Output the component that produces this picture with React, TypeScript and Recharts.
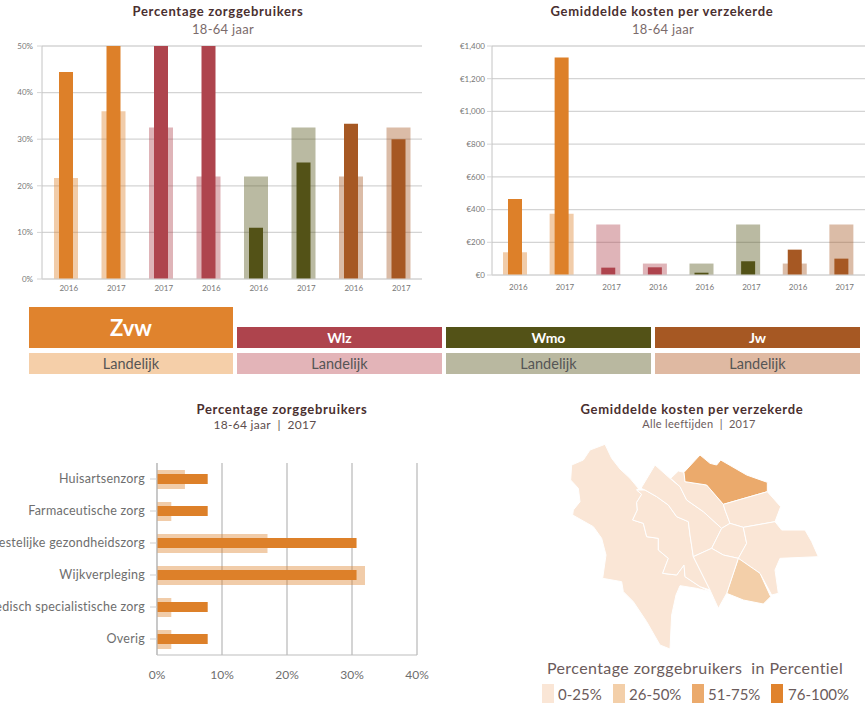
import React from "react";
import {
  BarChart,
  Bar,
  XAxis,
  YAxis,
  CartesianGrid,
  Cell,
  ScatterChart,
  Scatter,
} from "recharts";

const FONT = "Lato, 'Noto Sans', sans-serif";
const GRID = "#d4d4d4";

// shared by the two column charts
const yearLabels = ["2016", "2017", "2017", "2016", "2016", "2017", "2016", "2017"];
const barColors = ["#dd8029", "#dd8029", "#ae444d", "#ae444d", "#535217", "#535217", "#a65823", "#a65823"];

const pctLocal = [44.4, 50, 50, 50, 11, 25, 33.3, 30];
const pctNational = [21.7, 36, 32.5, 22, 22, 32.5, 22, 32.5];
const pctTicks = [0, 10, 20, 30, 40, 50];

const costLocal = [465, 1330, 45, 47, 14, 84, 155, 100];
const costNational = [139, 375, 308, 70, 70, 308, 70, 308];
const costTicks = [0, 200, 400, 600, 800, 1000, 1200, 1400];

const careTypes = [
  "Huisartsenzorg",
  "Farmaceutische zorg",
  "Geestelijke gezondheidszorg",
  "Wijkverpleging",
  "Medisch specialistische zorg",
  "Overig",
];
const careLocal = [7.8, 7.8, 30.7, 30.7, 7.8, 7.8];
const careNational = [4.3, 2.2, 17, 32, 2.2, 2.2];
const careTicks = [0, 10, 20, 30, 40];

const blocks = ["Zvw", "Wlz", "Wmo", "Jw"];
const blockLabel = "Landelijk";

const legendLabels = ["0-25%", "26-50%", "51-75%", "76-100%"];

// map outlines in map units
type Pt = [number, number];
const westArea: Pt[] = [[225, 148], [245, 190], [270, 222], [300, 250], [325, 280], [320, 285], [335, 298], [320, 322], [322, 345], [308, 375], [340, 385], [350, 425], [385, 430], [385, 465], [415, 490], [398, 535], [440, 540], [462, 510], [465, 545], [510, 575], [540, 590], [500, 580], [450, 572], [438, 600], [425, 660], [420, 762], [390, 750], [350, 680], [310, 620], [280, 590], [275, 560], [218, 550], [228, 480], [215, 430], [190, 395], [128, 360], [130, 345], [150, 320], [145, 280], [122, 255], [125, 210], [160, 195], [180, 165]];
const innerWest: Pt[] = [[320, 285], [345, 285], [380, 305], [415, 330], [440, 365], [475, 380], [480, 420], [490, 485], [540, 585], [510, 575], [465, 545], [462, 510], [440, 540], [398, 535], [415, 490], [385, 465], [385, 430], [350, 425], [340, 385], [308, 375], [322, 345], [320, 322], [335, 298]];
const northWest: Pt[] = [[333, 280], [375, 210], [422, 252], [450, 275], [470, 315], [520, 350], [575, 400], [545, 460], [490, 485], [480, 420], [475, 380], [440, 365], [415, 330], [380, 305], [345, 285]];
const north: Pt[] = [[422, 250], [445, 228], [462, 232], [465, 260], [530, 270], [580, 328], [585, 345], [600, 385], [575, 400], [520, 350], [470, 315], [450, 275]];
const northEast: Pt[] = [[462, 232], [510, 180], [540, 205], [560, 210], [572, 195], [650, 240], [712, 262], [712, 290], [580, 328], [530, 270], [465, 260]];
const east: Pt[] = [[580, 328], [712, 290], [752, 335], [735, 380], [640, 397], [600, 385], [585, 345]];
const centre: Pt[] = [[575, 400], [600, 385], [640, 397], [650, 445], [625, 490], [580, 480], [545, 460]];
const farEast: Pt[] = [[640, 397], [735, 380], [755, 405], [825, 405], [845, 440], [865, 485], [750, 490], [735, 525], [745, 595], [725, 600], [690, 535], [625, 490], [650, 445]];
const southEast: Pt[] = [[625, 490], [690, 535], [722, 605], [700, 627], [640, 615], [590, 595]];
const south: Pt[] = [[490, 485], [545, 460], [580, 480], [625, 490], [590, 595], [565, 640], [540, 585]];

const MAP_1 = "#fae6d6";
const MAP_2 = "#f3cfa9";
const MAP_3 = "#ebaa6c";
const MAP_4 = "#e0832d";
const legendColors = [MAP_1, MAP_2, MAP_3, MAP_4];

const districts: { pts: Pt[]; color: string }[] = [
  { pts: westArea, color: MAP_1 },
  { pts: innerWest, color: MAP_1 },
  { pts: northWest, color: MAP_1 },
  { pts: north, color: MAP_1 },
  { pts: northEast, color: MAP_3 },
  { pts: east, color: MAP_1 },
  { pts: centre, color: MAP_1 },
  { pts: farEast, color: MAP_1 },
  { pts: southEast, color: MAP_2 },
  { pts: south, color: MAP_1 },
];

const toRows = (local: number[], national: number[]) =>
  local.map((value, i) => ({ id: i, local: value, national: national[i] }));

const Title = ({ x, y, text, size, color, bold, spacing }: any) => (
  <div
    style={{
      position: "absolute",
      left: x - 200,
      top: y - 10,
      width: 400,
      height: 20,
      lineHeight: "20px",
      textAlign: "center",
      fontFamily: FONT,
      fontSize: size,
      color,
      fontWeight: bold ? 700 : 400,
      letterSpacing: spacing ?? (bold ? 0.7 : 0.3),
      whiteSpace: "pre",
    }}
  >
    {text}
  </div>
);

const ColumnChart = ({ local, national, ticks, max, format, axisWidth, right, xHeight, left, yMargin, xMargin }: any) => {
  const rows = toRows(local, national);
  return (
    <div style={{ position: "absolute", left, top: 40 }}>
      <BarChart width={433} height={260} data={rows} margin={{ top: 6, right, bottom: 0, left: 0 }}>
        <CartesianGrid vertical={false} stroke={GRID} strokeWidth={1.3} />
        <YAxis
          width={axisWidth}
          domain={[0, max]}
          ticks={ticks}
          tickFormatter={format}
          interval={0}
          tick={{ fontSize: 8, fill: "#777", fontFamily: FONT }}
          tickLine={{ stroke: GRID }}
          tickSize={5}
          tickMargin={yMargin}
          axisLine={{ stroke: "#c4c4c4" }}
        />
        <XAxis
          xAxisId="back"
          dataKey="id"
          height={xHeight}
          tickFormatter={(i: number) => yearLabels[i]}
          interval={0}
          tick={{ fontSize: 8, fill: "#777", fontFamily: FONT, dx: 3 }}
          tickLine={false}
          tickMargin={xMargin}
          axisLine={{ stroke: "#dcdcdc" }}
        />
        <XAxis xAxisId="front" dataKey="id" hide />
        <Bar xAxisId="back" dataKey="national" barSize={24} isAnimationActive={false}>
          {rows.map((r) => (
            <Cell key={r.id} fill={barColors[r.id]} fillOpacity={0.4} />
          ))}
        </Bar>
        <Bar xAxisId="front" dataKey="local" barSize={14} isAnimationActive={false}>
          {rows.map((r) => (
            <Cell key={r.id} fill={barColors[r.id]} />
          ))}
        </Bar>
      </BarChart>
    </div>
  );
};

// plain text tick: the long care names stay on one line and run off the left edge
const CareTick = ({ x, y, payload }: any) => (
  <text
    x={x}
    y={y}
    dy={4}
    textAnchor="end"
    fontFamily={FONT}
    fontSize={12.5}
    letterSpacing={0.25}
    fill="#6e6e6e"
  >
    {payload.value}
  </text>
);

const CareChart = () => {
  const rows = careTypes.map((name, i) => ({ name, local: careLocal[i], national: careNational[i] }));
  return (
    <div style={{ position: "absolute", left: 0, top: 450 }}>
      <BarChart layout="vertical" width={433} height={240} data={rows} margin={{ top: 13, right: 16, bottom: 0, left: 0 }}>
        <CartesianGrid horizontal={false} yAxisId="back" stroke="#bdbdbd" strokeWidth={1.3} />
        <XAxis
          type="number"
          domain={[0, 40]}
          ticks={careTicks}
          height={35}
          tickFormatter={(v: number) => `${v}%`}
          tick={{ fontSize: 12, fill: "#6e6e6e", fontFamily: FONT }}
          tickLine={false}
          tickMargin={9}
          axisLine={{ stroke: "#bdbdbd" }}
        />
        <YAxis
          yAxisId="back"
          type="category"
          dataKey="name"
          width={157}
          interval={0}
          tick={<CareTick />}
          tickLine={{ stroke: "#cfcfcf" }}
          tickSize={7}
          tickMargin={5}
          axisLine={{ stroke: "#bdbdbd" }}
        />
        <YAxis yAxisId="front" type="category" dataKey="name" hide />
        <Bar yAxisId="back" dataKey="national" barSize={19} fill="#dd8029" fillOpacity={0.4} isAnimationActive={false} />
        <Bar yAxisId="front" dataKey="local" barSize={10} fill="#dd8029" isAnimationActive={false} />
      </BarChart>
    </div>
  );
};

// Scatter hands its scaled points to the line renderer, so each district is filled from there
const districtShape = (color: string) => (props: any) => (
  <polygon
    points={(props.points || []).map((p: any) => `${p.x},${p.y}`).join(" ")}
    fill={color}
    stroke="#fff"
    strokeWidth={1}
    strokeLinejoin="round"
  />
);

const MapChart = () => (
  <div style={{ position: "absolute", left: 530, top: 395 }}>
    <ScatterChart width={336} height={270} margin={{ top: 0, right: 0, bottom: 0, left: 0 }}>
      <XAxis type="number" dataKey="x" domain={[0, 1008]} hide />
      <YAxis type="number" dataKey="y" domain={[0, 810]} reversed hide />
      {districts.map((d, i) => (
        <Scatter
          key={i}
          data={d.pts.map(([x, y]) => ({ x, y }))}
          line={districtShape(d.color)}
          shape={() => <g />}
          isAnimationActive={false}
        />
      ))}
    </ScatterChart>
  </div>
);

const blockBase = { position: "absolute", textAlign: "center", fontFamily: FONT } as React.CSSProperties;
const blockLeft = [29, 237, 446, 655];
const blockWidth = [204, 205, 205, 205];
const legendBox = [542, 613, 692, 771];
const legendText = [558, 629, 708, 788];

export default function App() {
  return (
    <div style={{ position: "absolute", left: 0, top: 0, width: 866, height: 703, overflow: "hidden", background: "#fff" }}>
      <Title x={218} y={11} text="Percentage zorggebruikers" size={13} color="#4a2f2f" bold />
      <Title x={223} y={29} text="18-64 jaar" size={13} color="#7b6b6b" />
      <Title x={662} y={11} text="Gemiddelde kosten per verzekerde" size={13} color="#4a2f2f" bold />
      <Title x={663} y={29} text="18-64 jaar" size={13} color="#7b6b6b" />

      <ColumnChart
        left={0}
        local={pctLocal}
        national={pctNational}
        ticks={pctTicks}
        max={50}
        format={(v: number) => `${v}%`}
        axisWidth={42}
        right={11}
        xHeight={21}
        yMargin={4}
        xMargin={0}
      />
      <ColumnChart
        left={433}
        local={costLocal}
        national={costNational}
        ticks={costTicks}
        max={1400}
        format={(v: number) => `€${v.toLocaleString("en-US")}`}
        axisWidth={59}
        right={1}
        xHeight={25}
        yMargin={2}
        xMargin={3}
      />

      {blocks.map((name, i) => {
        const big = i === 0;
        const top = big ? 307 : 327;
        const height = 348 - top;
        return (
          <React.Fragment key={name}>
            <div
              style={{
                ...blockBase,
                left: blockLeft[i],
                top,
                width: blockWidth[i],
                height,
                lineHeight: `${height}px`,
                background: i === 0 ? "#e0832d" : barColors[i * 2],
                color: "#fff",
                fontWeight: 700,
                fontSize: big ? 22 : 14,
              }}
            >
              {name}
            </div>
            <div
              style={{
                ...blockBase,
                left: blockLeft[i],
                top: 353,
                width: blockWidth[i],
                height: 21,
                lineHeight: "21px",
                background: ["#f5cfa9", "#e3b4b8", "#b9b8a0", "#dfb9a2"][i],
                color: "#555",
                fontSize: 14.5,
              }}
            >
              {blockLabel}
            </div>
          </React.Fragment>
        );
      })}

      <Title x={282} y={409} text="Percentage zorggebruikers" size={13} color="#4a2f2f" bold />
      <Title x={265} y={425} text="18-64 jaar  |  2017" size={12} color="#5d4d4d" />
      <CareChart />

      <Title x={692} y={409} text="Gemiddelde kosten per verzekerde" size={13} color="#4a2f2f" bold />
      <Title x={699} y={424} text="Alle leeftijden  |  2017" size={11} color="#6b5b5b" />
      <MapChart />

      <Title x={695} y={668} text="Percentage zorggebruikers  in Percentiel" size={16} color="#6b5b5b" spacing={0.4} />
      {legendLabels.map((label, i) => (
        <React.Fragment key={label}>
          <div style={{ position: "absolute", left: legendBox[i], top: 684, width: 12, height: 19, background: legendColors[i] }} />
          <div
            style={{
              position: "absolute",
              left: legendText[i],
              top: 684,
              lineHeight: "20px",
              fontFamily: FONT,
              fontSize: 15,
              color: "#6b5b5b",
            }}
          >
            {label}
          </div>
        </React.Fragment>
      ))}
    </div>
  );
}
